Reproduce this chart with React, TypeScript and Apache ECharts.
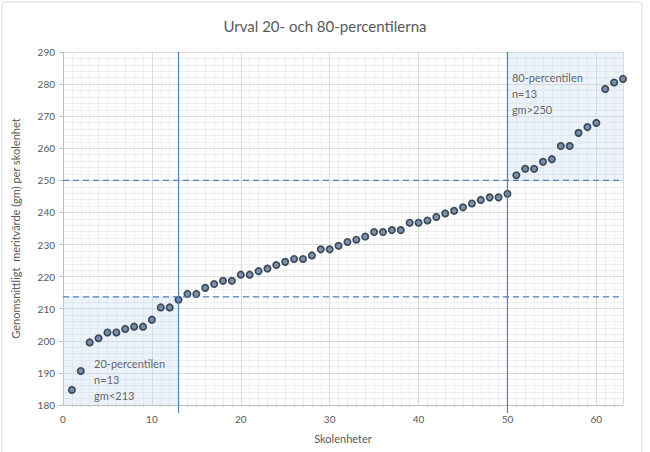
import React, { useEffect, useRef } from "react";
import * as echarts from "echarts";

const title = "Urval 20- och 80-percentilerna";
const xName = "Skolenheter";
const yName = "Genomsnittligt  meritvärde (gm) per skolenhet";

const schoolIndex = [
  1, 2, 3, 4, 5, 6, 7, 8, 9, 10, 11, 12, 13, 14, 15, 16, 17, 18, 19, 20, 21,
  22, 23, 24, 25, 26, 27, 28, 29, 30, 31, 32, 33, 34, 35, 36, 37, 38, 39, 40,
  41, 42, 43, 44, 45, 46, 47, 48, 49, 50, 51, 52, 53, 54, 55, 56, 57, 58, 59,
  60, 61, 62, 63,
];
const meritValues = [
  184.7, 190.6, 199.5, 200.8, 202.6, 202.6, 203.7, 204.4, 204.4, 206.6, 210.4,
  210.4, 212.8, 214.6, 214.6, 216.5, 217.7, 218.7, 218.7, 220.6, 220.6, 221.7,
  222.5, 223.6, 224.6, 225.5, 225.5, 226.6, 228.5, 228.5, 229.6, 230.8, 231.5,
  232.5, 233.9, 233.9, 234.5, 234.5, 236.8, 236.8, 237.5, 238.6, 239.7, 240.5,
  241.6, 242.8, 243.9, 244.7, 244.7, 245.8, 251.6, 253.6, 253.6, 255.8, 256.6,
  260.7, 260.7, 264.8, 266.6, 267.9, 278.5, 280.5, 281.6,
];

const lowerCutX = 13;
const upperCutX = 50;
const lowerCutY = 213.7;
const upperCutY = 250;
const xMin = 0;
const xMax = 63;
const yMin = 180;
const yMax = 290;

const lowerLabel = ["20-percentilen", "n=13", "gm<213"];
const upperLabel = ["80-percentilen", "n=13", "gm>250"];

const FONT = "Lato, 'Open Sans', sans-serif";
const GREY = "#595959";
const BLUE = "#4f81bd";

export default function App() {
  const ref = useRef<HTMLDivElement>(null);

  useEffect(() => {
    if (!ref.current) return;
    const chart = echarts.init(ref.current, undefined, { renderer: "svg" });
    const points = schoolIndex.map((x, i) => [x, meritValues[i]]);

    const option: any = {
      animation: false,
      backgroundColor: "#ffffff",
      textStyle: { fontFamily: FONT },
      title: {
        text: title,
        left: "center",
        top: 13,
        textStyle: {
          fontFamily: FONT,
          fontSize: 15,
          fontWeight: "normal",
          color: GREY,
        },
      },
      graphic: [
        {
          type: "rect",
          shape: { x: 2, y: 2, width: 640, height: 470, r: 3 },
          style: { fill: "none", stroke: "#d9d9d9", lineWidth: 1 },
          silent: true,
          z: -1,
        },
      ],
      grid: { left: 63, right: 27, top: 52, bottom: 47 },
      xAxis: {
        type: "value",
        min: xMin,
        max: xMax,
        interval: 10,
        name: xName,
        nameLocation: "middle",
        nameGap: 28,
        nameTextStyle: { color: GREY, fontSize: 11, fontFamily: FONT },
        axisLine: { show: true, onZero: false, lineStyle: { color: "#bfbfbf" } },
        axisTick: { show: false },
        minorTick: { show: true, splitNumber: 10, length: 2, lineStyle: { color: "#bfbfbf" } },
        axisLabel: {
          color: GREY,
          fontSize: 10,
          margin: 9,
          fontFamily: FONT,
          showMaxLabel: false,
        },
        splitLine: { show: true, lineStyle: { color: "#d9d9d9", width: 1 } },
        minorSplitLine: { show: true, lineStyle: { color: "#eeeeee", width: 1 } },
      },
      yAxis: {
        type: "value",
        min: yMin,
        max: yMax,
        interval: 10,
        name: yName,
        nameLocation: "middle",
        nameGap: 42,
        nameTextStyle: { color: GREY, fontSize: 11, fontFamily: FONT },
        axisLine: { show: true, lineStyle: { color: "#bfbfbf" } },
        axisTick: { show: true, length: 4, lineStyle: { color: "#bfbfbf" } },
        axisLabel: { color: GREY, fontSize: 10, margin: 8, fontFamily: FONT },
        splitLine: { show: true, lineStyle: { color: "#d9d9d9", width: 1 } },
        minorTick: { show: false, splitNumber: 5 },
        minorSplitLine: { show: true, lineStyle: { color: "#eeeeee", width: 1 } },
      },
      series: [
        {
          name: "Skolenheter",
          type: "scatter",
          data: points,
          symbol: "circle",
          symbolSize: 6.5,
          itemStyle: {
            color: "#5b7799",
            borderColor: "#1c2a3a",
            borderWidth: 1.6,
          },
          z: 8,
          markArea: {
            silent: true,
            itemStyle: { color: "rgba(198,217,241,0.35)" },
            data: [
              [
                { coord: [xMin, yMin] },
                { coord: [lowerCutX, lowerCutY] },
              ],
              [
                { coord: [upperCutX, upperCutY] },
                { coord: [xMax, yMax] },
              ],
            ],
          },
        },
        {
          name: "lowerV",
          type: "line",
          data: [
            [lowerCutX, 177.5],
            [lowerCutX, yMax],
          ],
          clip: false,
          symbol: "none",
          lineStyle: { color: BLUE, width: 1.2 },
          z: 9,
        },
        {
          name: "upperV",
          type: "line",
          data: [
            [upperCutX, 177.5],
            [upperCutX, yMax],
          ],
          clip: false,
          symbol: "none",
          lineStyle: { color: BLUE, width: 1.2 },
          z: 9,
        },
        {
          name: "lowerH",
          type: "line",
          data: [
            [xMin, lowerCutY],
            [xMax, lowerCutY],
          ],
          symbol: "none",
          lineStyle: { color: BLUE, width: 1.2, type: [6, 4] },
          z: 9,
        },
        {
          name: "upperH",
          type: "line",
          data: [
            [xMin, upperCutY],
            [xMax, upperCutY],
          ],
          symbol: "none",
          lineStyle: { color: BLUE, width: 1.2, type: [6, 4] },
          z: 9,
        },
        {
          name: "labels",
          type: "scatter",
          symbolSize: 0,
          silent: true,
          data: [
            { value: [3.5, 195.5], label: { formatter: lowerLabel.join("\n") } },
            { value: [50.5, 284.5], label: { formatter: upperLabel.join("\n") } },
          ],
          label: {
            show: true,
            position: "right",
            align: "left",
            verticalAlign: "top",
            distance: 0,
            color: "#404040",
            fontSize: 11,
            lineHeight: 16,
            fontFamily: FONT,
          },
          z: 10,
        },
      ],
    };

    chart.setOption(option);
    return () => chart.dispose();
  }, []);

  return (
    <div
      ref={ref}
      style={{ position: "fixed", left: 0, top: 0, width: 650, height: 452 }}
    />
  );
}
